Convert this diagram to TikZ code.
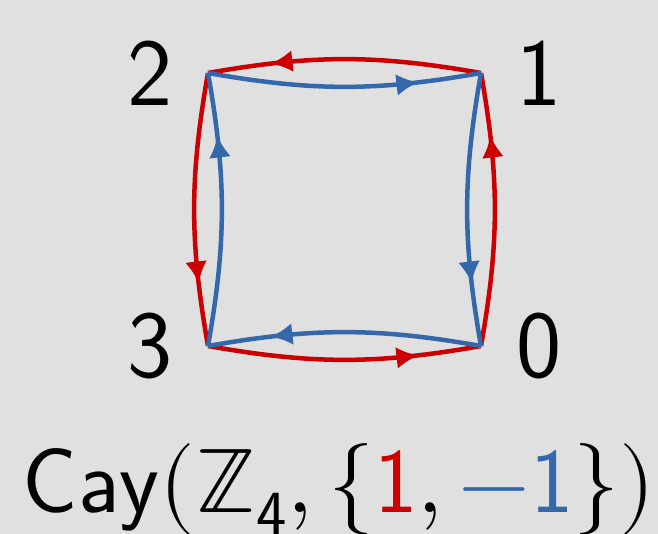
\documentclass[tikz,border=0pt]{standalone}
\usepackage{amsmath}
\usepackage{unicode-math}
\setmathfont{Latin Modern Math}
\usepackage{tikz}
\usetikzlibrary{arrows.meta, positioning, decorations.markings}

\definecolor{sfondo}{RGB}{224,224,224}
\definecolor{rosso}{RGB}{204,0,0}
\definecolor{blu}{RGB}{53,104,170}

\begin{document}
\begin{tikzpicture}[
			x=1pt, y=1pt,
			freccia/.style={postaction={decorate}, decoration={markings,
				mark=at position 0.77 with {\arrow{Latex[length=22pt,width=22pt]}}}},
			lato rosso/.style={draw=rosso, line width=4.5pt, freccia, rosso},
			lato blu/.style={draw=blu, line width=4.5pt, freccia, blu},
			etichetta/.style={inner sep=0pt, font=\sffamily\fontsize{96}{100}\selectfont}
			]
			% Sfondo
			\fill[sfondo] (0,0) rectangle (658,534);
			\useasboundingbox (0,0) rectangle (658,534);
			% Vertici
			\coordinate (v0) at (481,188);
			\coordinate (v1) at (481,461);
			\coordinate (v2) at (208,461);
			\coordinate (v3) at (208,188);
			\node[etichetta, left=35pt of v2] (l2) {2};
			\node[etichetta, right=35pt of v1] (l1) {1};
			\node[etichetta, left=35pt of v3] (l3) {3};
			\node[etichetta, right=35pt of v0] (l0) {0};
			% Generatore 1
			\draw[lato rosso] (v0) to[bend right=10] (v1);
			\draw[lato rosso] (v1) to[bend right=10] (v2);
			\draw[lato rosso] (v2) to[bend right=10] (v3);
			\draw[lato rosso] (v3) to[bend right=10] (v0);
			% Generatore -1
			\draw[lato blu] (v1) to[bend right=10] (v0);
			\draw[lato blu] (v0) to[bend right=10] (v3);
			\draw[lato blu] (v3) to[bend right=10] (v2);
			\draw[lato blu] (v2) to[bend right=10] (v1);
			% Titolo
			\node[inner sep=0pt, anchor=base, font=\fontsize{92}{100}\selectfont] (titolo) at (339,21)
				{$\mathsf{Cay}(\mathbb{Z}_{\mathsf{4}}, \{\textcolor{rosso}{\mathsf{1}}, \textcolor{blu}{-\mathsf{1}}\})$};
		\end{tikzpicture}
\end{document}
